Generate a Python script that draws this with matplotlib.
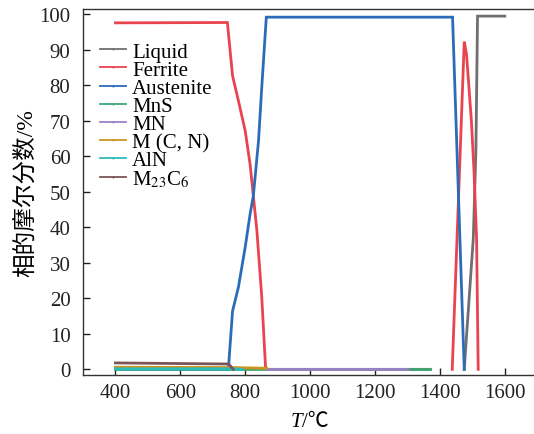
import numpy as np
import matplotlib
matplotlib.use("Agg")
import matplotlib.pyplot as plt
from matplotlib.lines import Line2D

nan = np.nan

# Phase mole fractions (%) versus temperature (degC)
liquid_T = [1475, 1503, 1511, 1516, 1600]
liquid_f = [0, 37, 62, 99.4, 99.4]

ferrite_T = [400, 745, 761, 779, 800, 815, 825, 836, 851, 863, 1370, nan,
             1438, 1475, 1482, 1497, 1505, 1513, 1518]
ferrite_f = [97.5, 97.6, 82.6, 75.6, 67.1, 57.7, 48.8, 39.0, 20.3, 0, 0, nan,
             0, 92.2, 88.7, 70.0, 55.9, 37.0, 0]

austenite_T = [400, 748, 761, 779, 800, 815, 825, 841, 851, 865, 1439, 1475]
austenite_f = [0, 0, 16.4, 23.1, 34.4, 43.7, 48.8, 64.3, 79.4, 99.1, 99.1, 0]

mns_T = [400, 1370]
mns_f = [0.1, 0.1]

mn_T = [863, 1300]
mn_f = [0.05, 0.05]

mcn_T = [400, 760, 866]
mcn_f = [0.6, 0.5, 0.3]

aln_T = [400, 760, 790]
aln_f = [0.15, 0.15, 0.0]

m23c6_T = [400, 749, 763]
m23c6_f = [1.8, 1.5, 0.0]

labels = ["Liquid", "Ferrite", "Austenite", "MnS", "MN", "M (C, N)", "AlN",
          r"M$_{23}$C$_6$"]
colors = ["#6f6f6f", "#e8434f", "#2b6cb8", "#3aa876", "#9a80c6", "#c9951f",
          "#2cbcbc", "#7b5458"]
series = [(liquid_T, liquid_f), (ferrite_T, ferrite_f),
          (austenite_T, austenite_f), (mns_T, mns_f), (mn_T, mn_f),
          (mcn_T, mcn_f), (aln_T, aln_f), (m23c6_T, m23c6_f)]

plt.rcParams["font.family"] = ["Liberation Serif"]
plt.rcParams["mathtext.fontset"] = "stix"

fig = plt.figure(figsize=(5.34, 4.35), dpi=100)
ax = fig.add_axes([0.1554, 0.1356, 0.8446, 0.8414])

for (t, f), c in zip(series, colors):
    ax.plot(t, f, color=c, lw=2.0, solid_joinstyle="miter")

ax.set_xlim(300, 1690)
ax.set_ylim(-1.6, 101.4)
ax.set_xticks(np.arange(400, 1601, 200))
ax.set_yticks(np.arange(0, 101, 10))
ax.tick_params(direction="in", length=5, width=1, labelsize=15,
               colors="#222222")
ax.tick_params(axis="y", pad=9)
ax.tick_params(axis="x", pad=6)
ax.spines["right"].set_visible(False)
for s in ["left", "bottom", "top"]:
    ax.spines[s].set_linewidth(1.0)
    ax.spines[s].set_color("#333333")

# x-axis title: italic T followed by "/℃"
fig.text(0.566, 0.006, "T", fontsize=15, style="italic", ha="right",
         va="bottom", family=["Liberation Serif"])
fig.text(0.566, 0.006, "/℃", fontsize=15, ha="left", va="bottom",
         family=["Liberation Serif", "Noto Sans CJK SC"])

ax.set_ylabel("相的摩尔分数/%", fontsize=17,
              family=["Liberation Serif", "Noto Sans CJK SC"], labelpad=2)

handles = [Line2D([0], [0], color=c, lw=1.3, marker="|", markersize=2.0,
                  markeredgewidth=1.0) for c in colors]
ax.legend(handles, labels, loc="upper left", bbox_to_anchor=(0.01, 0.944),
          frameon=False, fontsize=15, handlelength=1.25, handletextpad=0.3,
          labelspacing=-0.07, borderaxespad=0.2)

fig.savefig("out.png", dpi=100)
